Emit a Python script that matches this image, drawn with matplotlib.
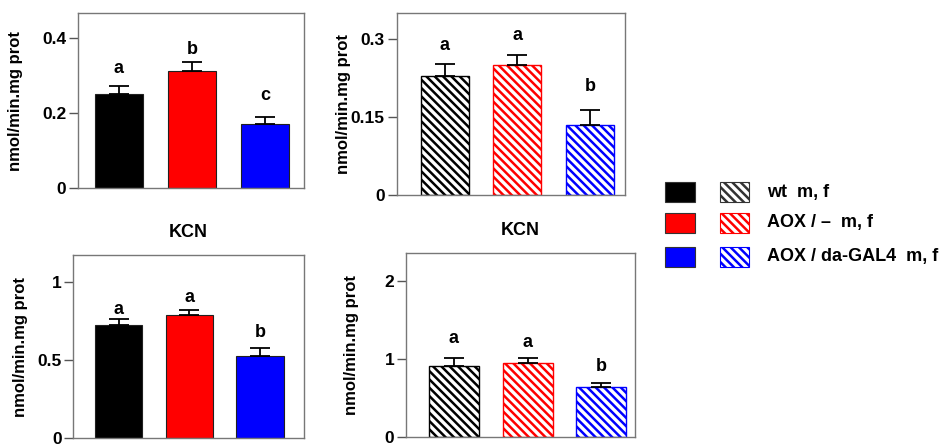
import numpy as np
import matplotlib.pyplot as plt
from matplotlib.patches import Rectangle

plt.rcParams['font.family'] = ['Liberation Sans', 'DejaVu Sans']
plt.rcParams['font.weight'] = 'bold'
plt.rcParams['hatch.linewidth'] = 1.8

groups = ['wt  m, f', 'AOX / \u2013  m, f', 'AOX / da-GAL4  m, f']
colors = ['#000000', '#ff0000', '#0000ff']

# top left: solid bars
tl_mean = [0.253, 0.312, 0.171]
tl_err = [0.019, 0.024, 0.018]
tl_letters = ['a', 'b', 'c']

# top right: hatched bars
tr_mean = [0.229, 0.250, 0.135]
tr_err = [0.023, 0.019, 0.028]
tr_letters = ['a', 'a', 'b']

# bottom left: solid, KCN
bl_mean = [0.724, 0.788, 0.526]
bl_err = [0.040, 0.032, 0.051]
bl_letters = ['a', 'a', 'b']

# bottom right: hatched, KCN
br_mean = [0.91, 0.95, 0.64]
br_err = [0.10, 0.06, 0.05]
br_letters = ['a', 'a', 'b']


def panel(ax, means, errs, letters, hatched, yticks, yticklabels, ylim, xlim,
          width, letter_y, title=None, ylab_x=-0.25):
    x = np.arange(len(means))
    for i in x:
        if hatched:
            ax.bar(i, means[i], width, facecolor='white', edgecolor=colors[i],
                   hatch='\\\\\\\\', linewidth=1.0, zorder=2)
        else:
            ax.bar(i, means[i], width, color=colors[i], edgecolor='#202020',
                   linewidth=0.8, zorder=2)
        ax.errorbar(i, means[i], yerr=[[0], [errs[i]]], fmt='none',
                    ecolor='black', elinewidth=1.3, capsize=7, capthick=1.3,
                    zorder=3)
        ax.text(i, letter_y[i], letters[i], ha='center', va='center',
                fontsize=13, fontweight='bold')
    ax.set_xlim(*xlim)
    ax.set_ylim(*ylim)
    ax.set_xticks([])
    ax.set_yticks(yticks)
    ax.set_yticklabels(yticklabels, fontsize=12.5, fontweight='bold')
    ax.tick_params(axis='y', direction='out', length=6.5, width=1.0,
                   color='#555555', pad=2)
    for s in ax.spines.values():
        s.set_color('#777777')
        s.set_linewidth(1.0)
    ax.set_ylabel('nmol/min.mg prot', fontsize=12, fontweight='bold', va='center')
    ax.yaxis.set_label_coords(ylab_x, 0.5)
    if title:
        ax.set_title(title, fontsize=13, fontweight='bold', pad=13)


fig = plt.figure(figsize=(9.4, 4.47), dpi=100)

ax1 = fig.add_axes([0.083, 0.579, 0.240, 0.391])
panel(ax1, tl_mean, tl_err, tl_letters, False, [0, 0.2, 0.4], ['0', '0.2', '0.4'],
      (0, 0.467), (-0.56, 2.53), 0.66, [0.320, 0.371, 0.248], ylab_x=-0.279)

ax2 = fig.add_axes([0.422, 0.564, 0.243, 0.407])
panel(ax2, tr_mean, tr_err, tr_letters, True, [0, 0.15, 0.3], ['0', '0.15', '0.3'],
      (0, 0.35), (-0.66, 2.48), 0.66, [0.288, 0.307, 0.209], ylab_x=-0.232)

ax3 = fig.add_axes([0.078, 0.020, 0.245, 0.409])
panel(ax3, bl_mean, bl_err, bl_letters, False, [0, 0.5, 1], ['0', '0.5', '1'],
      (0, 1.17), (-0.645, 2.62), 0.67, [0.82, 0.90, 0.675], title='KCN',
      ylab_x=-0.23)

ax4 = fig.add_axes([0.432, 0.022, 0.243, 0.412])
panel(ax4, br_mean, br_err, br_letters, True, [0, 1, 2], ['0', '1', '2'],
      (0, 2.36), (-0.65, 2.45), 0.68, [1.27, 1.21, 0.91], title='KCN',
      ylab_x=-0.237)

# legend drawn in figure pixels
W, H = 940.0, 447.0
rows_y = [192, 223, 257]
for i, yy in enumerate(rows_y):
    fig.patches.append(Rectangle((665 / W, 1 - (yy + 10) / H), 30 / W, 20 / H,
                                 transform=fig.transFigure, facecolor=colors[i],
                                 edgecolor='#333333', linewidth=0.8))
    fig.patches.append(Rectangle((720 / W, 1 - (yy + 10) / H), 29 / W, 20 / H,
                                 transform=fig.transFigure, facecolor='white',
                                 edgecolor=colors[i] if i else '#333333',
                                 hatch='\\\\\\\\', linewidth=0.8))
    fig.text(767 / W, 1 - yy / H, groups[i], ha='left', va='center',
             fontsize=13, fontweight='bold')

fig.savefig('out.png', dpi=100)
